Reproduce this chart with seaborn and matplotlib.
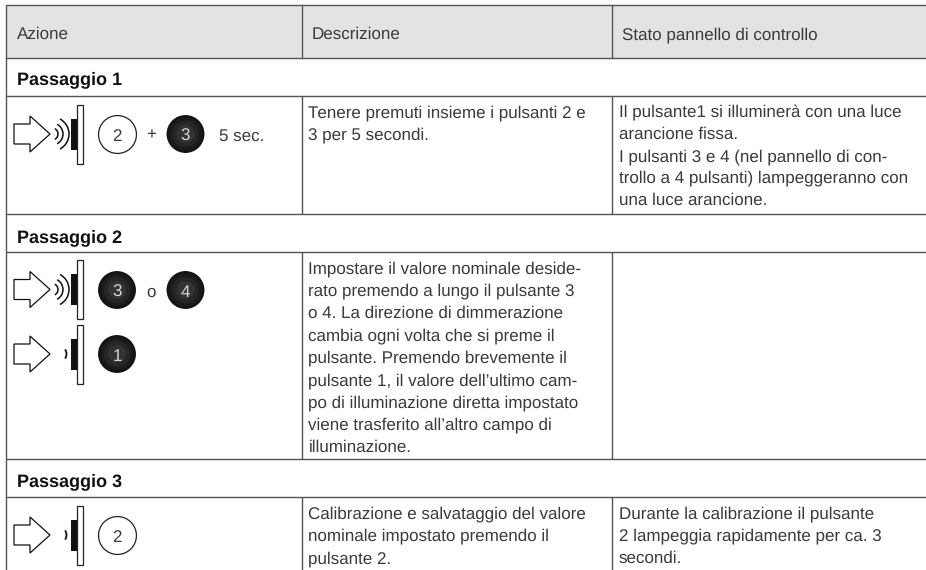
import matplotlib
matplotlib.use("Agg")
import matplotlib.pyplot as plt
from matplotlib.patches import Arc, Polygon, Rectangle
import pandas as pd
import seaborn as sns

# ---- table content and layout, in pixels of the 926x570 picture ----
HEADERS = ["Azione", "Descrizione", "Stato pannello di controllo"]
HEADER_X = [17, 311.5, 621.5]
STEPS = ["Passaggio 1", "Passaggio 2", "Passaggio 3"]
STEP_Y = [84.3, 241.7, 486]

H_LINES = [5, 57.5, 95.5, 213.5, 251.5, 459, 497]
COL_LINES = [6, 301.5, 611.5]
RIGHT = 926
BOTTOM = 570

DESC_1 = ["Tenere premuti insieme i pulsanti 2 e", "3 per 5 secondi."]
DESC_2 = [
    "Impostare il valore nominale deside-",
    "rato premendo a lungo il pulsante 3",
    "o 4. La direzione di dimmerazione",
    "cambia ogni volta che si preme il",
    "pulsante. Premendo brevemente il",
    "pulsante 1, il valore dell’ultimo cam-",
    "po di illuminazione diretta impostato",
    "viene trasferito all’altro campo di",
    "illuminazione.",
]
DESC_3 = [
    "Calibrazione e salvataggio del valore",
    "nominale impostato premendo il",
    "pulsante 2.",
]
STATE_1 = [
    "Il pulsante1 si illuminerà con una luce",
    "arancione fissa.",
    "I pulsanti 3 e 4 (nel pannello di con-",
    "trollo a 4 pulsanti) lampeggeranno con",
    "una luce arancione.",
]
STATE_3 = [
    "Durante la calibrazione il pulsante",
    "2 lampeggia rapidamente per ca. 3",
    "secondi.",
]

BTN_LABEL = ["2", "3", "3", "4", "1", "2"]
BTN_X = [117, 185.5, 117, 185.5, 117, 117]
BTN_Y = [134, 134, 290, 290, 354, 535]
BTN_FILLED = [False, True, True, True, True, False]

ICON_Y = [134, 289.5, 354, 535]
ICON_LONG = [True, True, False, False]

TEXT_COL = "#3a3a3a"
LINE_COL = "#555555"
HEADER_BG = "#e3e3e3"
# ---------------------------------------------------------------------

sns.set_theme(style="white")
plt.rcParams["font.family"] = ["Liberation Sans", "DejaVu Sans"]
plt.rcParams["text.hinting"] = "none"
plt.rcParams["text.hinting_factor"] = 1
FS = 12.5
LW = 1.0


def draw_grid(ax):
    ax.add_patch(Rectangle((COL_LINES[0], H_LINES[0]), RIGHT - COL_LINES[0],
                           H_LINES[1] - H_LINES[0], fc=HEADER_BG, ec="none"))
    for y in H_LINES:
        ax.plot([COL_LINES[0], RIGHT], [y, y], color=LINE_COL, lw=LW)
    ax.plot([COL_LINES[0], COL_LINES[0]], [H_LINES[0], BOTTOM], color=LINE_COL, lw=LW)
    # the inner columns stop at the "Passaggio" rows
    for x in COL_LINES[1:]:
        for top, bot in [(H_LINES[0], H_LINES[1]), (H_LINES[2], H_LINES[3]),
                         (H_LINES[4], H_LINES[5]), (H_LINES[6], BOTTOM)]:
            ax.plot([x, x], [top, bot], color=LINE_COL, lw=LW)


def draw_block(ax, x, y0, lines, step=22.3):
    for i, line in enumerate(lines):
        ax.text(x, y0 + i * step, line, fontsize=FS, color=TEXT_COL, va="baseline", ha="left")


def draw_icon(ax, cy, long_press):
    arrow = [(14, cy - 10), (30, cy - 10), (30, cy - 18), (50, cy), (30, cy + 18),
             (30, cy + 10), (14, cy + 10)]
    ax.add_patch(Polygon(arrow, closed=True, fc="white", ec="#111111", lw=0.9))
    ax.add_patch(Rectangle((76.5, cy - 29.5), 6, 59, fc="white", ec="#222222", lw=0.9))
    ax.add_patch(Rectangle((71, cy - 15.5), 5.5, 31, fc="#111111", ec="none"))
    if long_press:
        for r in [6, 11, 17]:
            ax.add_patch(Arc((52, cy), 2 * r, 2 * r, theta1=-62, theta2=62, color="#111111", lw=1.1))
    else:
        ax.add_patch(Arc((58.5, cy), 16, 16, theta1=-35, theta2=35, color="#111111", lw=1.3))


def draw_buttons(ax):
    df = pd.DataFrame({"x": BTN_X, "y": BTN_Y, "filled": BTN_FILLED, "label": BTN_LABEL})
    sns.scatterplot(data=df[~df["filled"]], x="x", y="y", s=745, color="white",
                    edgecolor="#222222", linewidth=0.9, ax=ax, legend=False, zorder=3)
    # dark buttons have a soft glow in the middle
    filled = df[df["filled"]]
    for size, col in [(745, "#131313"), (560, "#1b1b1b"), (360, "#262626"), (170, "#333333")]:
        sns.scatterplot(data=filled, x="x", y="y", s=size, color=col, edgecolor="none",
                        ax=ax, legend=False, zorder=3)
    for _, row in df.iterrows():
        ax.text(row["x"], row["y"] + 6.6, row["label"], fontsize=FS, ha="center", va="baseline",
                color="#d8d8d8" if row["filled"] else TEXT_COL, zorder=4)


def main():
    fig = plt.figure(figsize=(9.26, 5.70), dpi=100)
    ax = fig.add_axes([0, 0, 1, 1])
    draw_grid(ax)

    for label, x in zip(HEADERS, HEADER_X):
        ax.text(x, 39.3, label, fontsize=FS, color=TEXT_COL, va="baseline")
    for label, y in zip(STEPS, STEP_Y):
        ax.text(17, y, label, fontsize=13, color="#111111", va="baseline", fontweight="bold")

    draw_block(ax, 308.5, 117.5, DESC_1, step=21.8)
    draw_block(ax, 308.5, 273.5, DESC_2)
    draw_block(ax, 308.5, 518.5, DESC_3)
    draw_block(ax, 619, 117.5, STATE_1, step=21.8)
    draw_block(ax, 619, 518.5, STATE_3)

    for cy, long_press in zip(ICON_Y, ICON_LONG):
        draw_icon(ax, cy, long_press)
    draw_buttons(ax)

    ax.text(151, 139, "+", fontsize=FS, color=TEXT_COL, ha="center", va="baseline")
    ax.text(151, 296.5, "o", fontsize=FS, color=TEXT_COL, ha="center", va="baseline")
    ax.text(219, 140.7, "5 sec.", fontsize=FS, color=TEXT_COL, va="baseline")

    ax.set_xlim(0, 926)
    ax.set_ylim(570, 0)
    ax.axis("off")
    fig.savefig("out.png", dpi=100)
    plt.close(fig)


if __name__ == "__main__":
    main()
